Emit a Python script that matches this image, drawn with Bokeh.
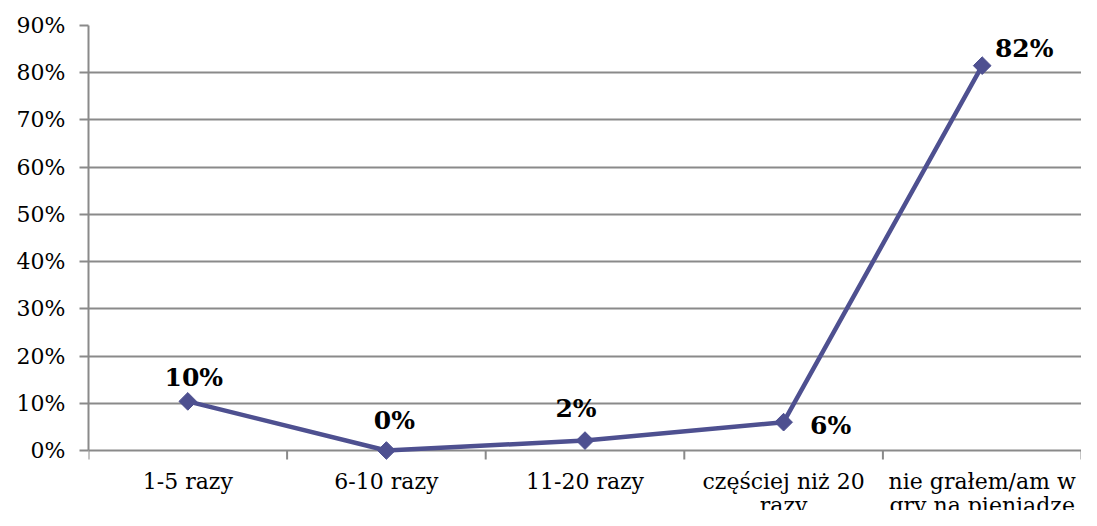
import math
from bokeh.plotting import figure
from bokeh.models import (ColumnDataSource, Label, FixedTicker,
                          NumeralTickFormatter, Range1d)
from bokeh.embed import file_html
from bokeh.resources import INLINE

# ---- data ----
categories = ["1-5 razy", "6-10 razy", "11-20 razy", "częściej niż 20\nrazy", "nie grałem/am w\ngry na pieniądze"]
values = [0.104, 0.0, 0.021, 0.06, 0.815]
value_labels = ["10%", "0%", "2%", "6%", "82%"]
y_ticks = [0.0, 0.1, 0.2, 0.3, 0.4, 0.5, 0.6, 0.7, 0.8, 0.9]

# ---- styles ----
LINE_COLOR = "#4E5090"
GRID_COLOR = "#8A8A8A"
FONT = "DejaVu Serif"
label_offsets = [(6, 24), (8, 30), (-9, 32), (47, -3), (42, 17)]

WIDTH, HEIGHT = 1081, 510
TOP, LEFT = 25, 88
ZERO_PX = 450                       # pixel row of the 0% line
Y_MAX = y_ticks[-1]
px = Y_MAX / (ZERO_PX - TOP)         # data units per pixel
y_low = -(HEIGHT - ZERO_PX) * px     # frame runs down to the canvas bottom

xs = [i + 0.5 for i in range(len(categories))]
bounds = list(range(len(categories) + 1))

p = figure(width=WIDTH, height=HEIGHT, output_backend="svg", toolbar_location=None,
           x_range=Range1d(0, len(categories)), y_range=Range1d(y_low, Y_MAX),
           min_border_left=LEFT, min_border_right=0, min_border_top=TOP,
           min_border_bottom=0)
p.outline_line_color = None
p.background_fill_color = "white"
p.border_fill_color = "white"
p.xaxis.visible = False

# y axis (line limited to 0..90%)
p.yaxis.bounds = (0, Y_MAX)
p.yaxis.ticker = FixedTicker(ticks=y_ticks)
p.yaxis.formatter = NumeralTickFormatter(format="0%")
p.yaxis.major_label_text_font = FONT
p.yaxis.major_label_text_font_size = "22px"
p.yaxis.major_label_text_color = "black"
p.yaxis.axis_line_color = GRID_COLOR
p.yaxis.axis_line_width = 2
p.yaxis.major_tick_line_color = GRID_COLOR
p.yaxis.major_tick_line_width = 2
p.yaxis.major_tick_out = 9
p.yaxis.major_tick_in = 0
p.yaxis.minor_tick_line_color = None
p.yaxis.major_label_standoff = 14

p.xgrid.grid_line_color = None
p.ygrid.ticker = FixedTicker(ticks=y_ticks)
p.ygrid.grid_line_color = GRID_COLOR
p.ygrid.grid_line_width = 2

# category boundary ticks below the 0% line
tick_len = 9 * px
p.segment(x0=bounds, y0=[0] * len(bounds), x1=bounds, y1=[-tick_len] * len(bounds),
          line_color=GRID_COLOR, line_width=2)

# line + markers
src = ColumnDataSource(dict(x=xs, y=values))
p.line("x", "y", source=src, line_color=LINE_COLOR, line_width=4.5)
p.scatter("x", "y", source=src, marker="square", size=12.5, angle=math.pi / 4,
          fill_color=LINE_COLOR, line_color=LINE_COLOR)

# data labels
for x, y, t, (dx, dy) in zip(xs, values, value_labels, label_offsets):
    p.add_layout(Label(x=x, y=y, text=t, x_offset=dx, y_offset=dy,
                       text_align="center", text_baseline="middle",
                       text_font=FONT, text_font_style="bold",
                       text_font_size="25px", text_color="black"))

# category labels (up to two lines)
for x, c in zip(xs, categories):
    for k, part in enumerate(c.split("\n")):
        p.add_layout(Label(x=x, y=0, text=part, y_offset=-31 - 24 * k,
                           text_align="center", text_baseline="middle",
                           text_font=FONT, text_font_size="22px",
                           text_color="black"))

open("out.html", "w").write(file_html(p, INLINE))
